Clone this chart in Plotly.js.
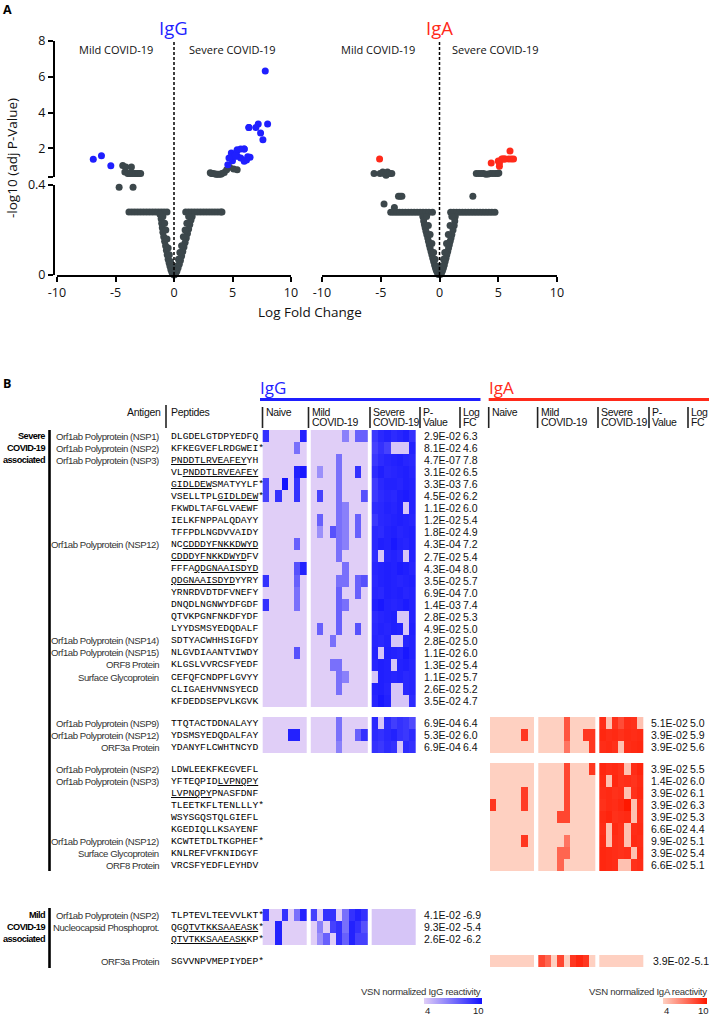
<!DOCTYPE html>
<html><head><meta charset="utf-8">
<script src="https://cdn.plot.ly/plotly-3.0.1.min.js"></script>
<style>html,body{margin:0;padding:0;background:#fff}#chart{width:709px;height:1017px}</style>
</head><body><div id="chart"></div>
<script>
// ---------------- DATA ----------------
const antigens = [
 'Orf1ab Polyprotein (NSP1)','Orf1ab Polyprotein (NSP2)','Orf1ab Polyprotein (NSP3)','','','','','','',
 'Orf1ab Polyprotein (NSP12)','','','','','','','',
 'Orf1ab Polyprotein (NSP14)','Orf1ab Polyprotein (NSP15)','ORF8 Protein','Surface Glycoprotein','','',
 'Orf1ab Polyprotein (NSP9)','Orf1ab Polyprotein (NSP12)','ORF3a Protein',
 'Orf1ab Polyprotein (NSP2)','Orf1ab Polyprotein (NSP3)','','','','','Orf1ab Polyprotein (NSP12)','Surface Glycoprotein','ORF8 Protein',
 'Orf1ab Polyprotein (NSP2)','Nucleocapsid Phosphoprot.','',
 'ORF3a Protein'
];
const peptides = [
 'DLGDELGTDPYEDFQ','KFKEGVEFLRDGWEI*','<u>PNDDTLRVEAFEY</u>YH','VL<u>PNDDTLRVEAFEY</u>','<u>GIDLDEW</u>SMATYYLF*',
 'VSELLTPL<u>GIDLDEW</u>*','FKWDLTAFGLVAEWF','IELKFNPPALQDAYY','TFFPDLNGDVVAIDY','NC<u>CDDDYFNKKDWYD</u>',
 '<u>CDDDYFNKKDWYD</u>FV','FFFA<u>QDGNAAISDYD</u>','<u>QDGNAAISDYD</u>YYRY','YRNRDVDTDFVNEFY','DNQDLNGNWYDFGDF',
 'QTVKPGNFNKDFYDF','LYYDSMSYEDQDALF','SDTYACWHHSIGFDY','NLGVDIAANTVIWDY','KLGSLVVRCSFYEDF',
 'CEFQFCNDPFLGVYY','CLIGAEHVNNSYECD','KFDEDDSEPVLKGVK',
 'TTQTACTDDNALAYY','YDSMSYEDQDALFAY','YDANYFLCWHTNCYD',
 'LDWLEEKFKEGVEFL','YFTEQPID<u>LVPNQPY</u>','<u>LVPNQPY</u>PNASFDNF','TLEETKFLTENLLLY*','WSYSGQSTQLGIEFL',
 'KGEDIQLLKSAYENF','KCWTETDLTKGPHEF*','KNLREFVFKNIDGYF','VRCSFYEDFLEYHDV',
 'TLPTEVLTEEVVLKT*','QG<u>QTVTKKSAAEASK</u>*','<u>QTVTKKSAAEASK</u>KP*',
 'SGVVNPVMEPIYDEP*'
];
const N9 = [null,null,null,null,null,null,null,null,null];
const igGPval = ['2.9E-02','8.1E-02','4.7E-07','3.1E-02','3.3E-03','4.5E-02','1.1E-02','1.2E-02','1.8E-02','4.3E-04',
 '2.7E-02','4.3E-04','3.5E-02','6.9E-04','1.4E-03','2.8E-02','4.9E-02','2.8E-02','1.1E-02','1.3E-02','1.1E-02','2.6E-02','3.5E-02',
 '6.9E-04','5.3E-02','6.9E-04', ...N9, '4.1E-02','9.3E-02','2.6E-02', null];
const igGLogFC = [6.3,4.6,7.8,6.5,7.6,6.2,6.0,5.4,4.9,7.2,5.4,8.0,5.7,7.0,7.4,5.3,5.0,5.0,6.0,5.4,5.7,5.2,4.7,
 6.4,6.0,6.4, ...N9, -6.9,-5.4,-6.2, null];
const N23 = new Array(23).fill(null);
const igAPval = [...N23, '5.1E-02','3.9E-02','3.9E-02','3.9E-02','1.4E-02','3.9E-02','3.9E-02','3.9E-02','6.6E-02','9.9E-02','3.9E-02','6.6E-02',
 null,null,null,'3.9E-02'];
const igALogFC = [...N23, 5.0,5.9,5.6,5.5,6.0,6.1,6.3,5.3,4.4,5.1,5.4,5.1, null,null,null,-5.1];
const scaleTicks = [4, 10];

// Heatmap values (VSN normalized reactivity): 7 Naive | 9 Mild | 7 Severe
const igG_sev1 = [
[9,4,4,4,4,4,9.5, 4,4,4,4,4,6.5,4,7.5,7.5, 8.8,9.3,9.5,9.2,9.4,9.6,9],
[4,4,4,4,4,7,4, 4,4,4,4,4,4,4,4,4, 8.5,9,8.5,4.3,4.3,4.3,9.5],
[4,4,4,4,4,4,4, 4,4,4,4,7,4,4,4,4, 8.8,9.2,9.4,9.5,9.6,9.4,9.3],
[4,4,4,4,4,9.5,9.8, 4,6,4,4,7,4,4,9,4, 9.2,9.6,9.3,9.4,9.5,9.6,9.4],
[8.5,4,4,10,4,9,4, 4,4,4,4,7,4,4,4,4, 8.7,9.3,9.5,9.5,9.4,9.6,9.5],
[8.5,4,9,4,4,9,4, 4,8.5,4,4,7,4,4,4,8, 8.8,9.2,9.4,9.3,9.6,9.7,9.5],
[4,4,4,4,4,4,4, 4,4,4,4,7,6.5,4,4,4, 9.2,9.3,9.5,9.4,9.6,4.3,9.5],
[4,4,4,4,4,4,4, 4,7.5,4,4,7,6.5,4,7.5,4, 8.8,9.3,9.4,9.5,9.6,9.5,9.4],
[4,4,4,4,4,4,4, 4,6,4,8,7,6.5,4,7.5,4, 9.3,9.2,9.5,9.6,9.4,9.5,9.6],
[4,4,4,4,4,7.5,4, 4,4,4,4,7,6.5,4,4,4, 9.3,9.6,9.5,9.8,9.5,9.4,9.6],
[4,4,4,4,4,4,4, 4,4,4,4,7,4,4,4,4, 9.2,4.3,9.4,9.5,9.3,4.3,9.5],
[4,4,4,4,4,8,9.5, 4,4,4,4,4,7,4,4,4, 9.4,9.5,9.6,9.5,9.7,9.6,9.4],
[9,4,4,4,4,7.5,4, 4,4,4,4,7,7,4,7.5,8, 9.3,9.5,9.6,9.5,9.4,9.5,9.6],
[4,4,4,4,4,7,4, 4,4,4,4,7.5,4,4,7.5,4, 9.4,9.3,9.6,9.5,9.6,9.4,9.5],
[9,4,4,4,4,7,4, 4,4,4,4,7.5,7,4,4,4, 9.6,9.8,9.5,9.4,9.5,9.7,9.5],
[4,4,4,4,4,4,4, 4,4,4,4,7.5,4,4,4,4, 9.2,9.4,9.5,9.6,4.3,4.3,9.5],
[4,4,4,4,4,4,4, 4,7.5,4,4,7.5,4,4,8,4, 9.3,9.5,9.4,9.6,9.5,4.3,9.6],
[4,4,4,4,4,4,4, 4,4,4,7,4,4,4,4,4, 9.4,9.3,9.5,4.3,4.3,9.4,9.5],
[4,4,4,4,4,8,4, 4,4,4,4,4,4,4,4,4, 9.5,4.3,9.6,9.5,9.4,9.8,9.5],
[4,4,4,4,4,4,4, 4,4,4,7,7,4,4,4,4, 9.4,9.6,9.5,4.3,9.5,9.6,9.4],
[4,4,4,4,4,4,4, 4,4,4,4,7,6.5,4,4,4, 4.3,9.6,9.5,9.4,9.5,9.3,9.4],
[4,4,4,4,4,4,4, 4,4,4,4,7,4,4,4,4, 9.5,9.6,9.4,4.3,4.3,9.3,9.4],
[4,4,4,4,4,4,4, 4,4,4,4,4,4,4,4,4, 9.4,9.8,9.5,4.3,4.3,4.3,9.2]
];
const igG_sev2 = [
[4,4,4,4,4,4,4, 4,4,4,4,7,4,4,4,4, 9.3,4.3,9.2,8.6,9,8.8,8.2],
[4,4,4,4,9.5,9.5,4, 4,4,4,4,7,4,4,7.5,9, 9.2,9,9.3,9.5,9,8.8,9.2],
[4,4,4,4,4,4,4, 4,4,4,4,6.5,4,4,4,4, 9,8.8,9.2,9,4.3,9.2,9]
];
const igG_mild = [
[9,4,4,9,4,7,9.5, 8.5,4,9,9,4,7,9,9.5,9, 4.3,4.3,4.3,4.3,4.3,4.3,4.3],
[4,4,9.5,4,4,4,4, 4,6.5,4,8.5,9,7,9.5,9,8, 4.3,4.3,4.3,4.3,4.3,4.3,4.3],
[4,4,9.5,4,4,4,4, 4,6,7.5,4,9,7.5,9.5,8.5,8.5, 4.3,4.3,4.3,4.3,4.3,4.3,4.3]
];
const igA_sev2 = [
[4,4,4,4,4,4,4, 4,4,4,4,8,4,4,4,4, 9.3,4.5,9.2,8.3,9.3,9.2,4.5],
[4,4,4,4,4,9,4, 4,4,4,4,8,4,4,9,9, 9.5,9.3,9.4,9.2,9.4,9.3,9.4],
[4,4,4,4,4,4,4, 4,4,4,4,7,4,4,4,9, 9.3,9.4,9.2,4.5,9.3,9.4,9.5]
];
const igA_sev3 = [
[4,4,4,4,4,4,4, 4,4,4,4,8.5,4,4,4,9, 9.5,9.3,9.4,9.2,4.5,9.3,9.6],
[4,4,4,4,4,4,4, 4,4,4,4,8.5,4,4,4,4, 9.4,4.5,9.5,9.2,9.3,9.1,9.4],
[4,4,4,4,4,8.8,4, 4,4,4,4,8.5,4,4,4,4, 9.3,9.4,9.2,9.3,4.5,9.2,9.5],
[9,4,4,4,4,8.8,4, 4,4,4,4,8.5,4,4,4,4, 9.2,9.4,9.3,9.5,10,4.5,9.3],
[4,4,4,4,4,4,4, 4,4,4,8.5,8.5,4,4,4,4, 9.4,9.6,9.2,9.3,9.4,4.5,9.3],
[4,4,4,4,4,4,4, 4,4,4,4,4,4,4,4,4, 9.3,4.5,9.4,9.2,4.5,9.3,9.4],
[4,4,4,4,4,9,4, 4,4,4,4,7,4,4,4,4, 9.4,4.5,9.3,9.2,4.5,9.4,9.3],
[4,4,4,4,4,4,4, 4,4,4,7.5,7.5,4,4,4,4, 9.5,9.4,9.3,9.2,9.3,4.5,9.4],
[4,4,4,4,4,4,4, 4,4,4,7.5,4,4,4,4,4, 9.5,9.4,9.3,4.5,4.5,9.2,9.3]
];
const igA_mild = [
[4,4,4,4,4,4,4, 8.5,7.5,4,8.5,4,9,9.5,9,4, 4,4,4,4,4,4,4]
];

// Volcano plot: non-significant peptides (grey)
const igGGreyX = [-4.38,-4.12,-3.64,-4.2,-3.95,-3.84,-3.7,-3.55,-3.4,-3.27,-3.1,-2.98,-2.85,
 3.1,3.2,3.3,3.45,3.6,3.7,3.85,4.0,4.1,4.3,4.5,4.75,5.1,5.4,
 -4.69,-3.5,
 -3.85,-3.6,-3.35,-3.1,-2.85,-2.6,-2.35,-2.1,-1.85,-1.6,-1.35,-1.1,-0.85,-0.6,
 1.0,1.25,1.5,1.75,2.0,2.25,2.5,2.75,3.0,3.25,3.5,3.75,4.0,4.1,
 -1.2,-1.1,-1.05,-1.0,-0.95,-0.88,-0.8,-0.72,-0.65,-0.58,-0.5,-0.42,-0.35,-0.27,-0.18,-0.08,0,
 -0.95,-0.8,-0.7,-0.6,-0.5,-0.4,-0.3,-0.2,-0.1,
 1.55,1.45,1.35,1.25,1.15,1.05,0.95,0.85,0.75,0.65,0.55,0.45,0.35,0.25,0.15,0.06,
 1.25,1.1,0.95,0.8,0.65,0.5,0.38,0.25,0.12];
const igGGreyY = [1.04,0.96,0.96,0.68,0.6,0.59,0.6,0.59,0.6,0.59,0.6,0.59,0.6,
 0.64,0.6,0.6,0.58,0.56,0.56,0.56,0.55,0.6,0.65,0.8,0.95,0.85,0.8,
 0.39,0.39,
 0.28,0.28,0.28,0.28,0.28,0.28,0.28,0.28,0.28,0.28,0.28,0.28,0.28,0.28,
 0.28,0.28,0.28,0.28,0.28,0.28,0.28,0.28,0.28,0.28,0.28,0.28,0.28,0.28,
 0.27,0.25,0.23,0.21,0.19,0.17,0.15,0.13,0.11,0.09,0.07,0.055,0.04,0.025,0.012,0.004,0,
 0.26,0.23,0.2,0.16,0.12,0.09,0.06,0.035,0.015,
 0.26,0.245,0.225,0.205,0.185,0.165,0.145,0.125,0.105,0.085,0.065,0.048,0.032,0.018,0.008,0.002,
 0.26,0.23,0.2,0.17,0.13,0.1,0.07,0.04,0.02];
const igAGreyX = [-5.57,-5.06,-4.83,-4.7,-4.55,-4.43,-4.25,-4.06,
 3.13,3.35,3.55,3.75,3.95,4.15,4.35,4.55,4.75,4.95,5.05,
 -3.49,-3.35,-3.2,-4.72,-3.84,2.84,
 -4.15,-3.9,-3.65,-3.4,-3.15,-2.9,-2.65,-2.4,-2.15,-1.9,-1.65,-1.4,-1.15,-0.9,-0.6,
 0.95,1.2,1.45,1.7,1.95,2.2,2.45,2.7,2.95,3.2,3.45,3.7,3.95,4.2,4.45,4.72,
 -1.42,-1.35,-1.28,-1.22,-1.15,-1.08,-1.0,-0.94,-0.87,-0.8,-0.72,-0.65,-0.57,-0.5,-0.42,-0.35,-0.27,-0.18,-0.08,
 -1.1,-0.95,-0.8,-0.65,-0.5,-0.38,-0.25,
 1.34,1.3,1.25,1.15,1.05,0.98,0.91,0.84,0.77,0.7,0.62,0.55,0.48,0.41,0.34,0.26,0.18,0.06,
 1.05,0.9,0.75,0.6,0.45,0.35,0.22];
const igAGreyY = [0.59,0.59,0.68,0.6,0.5,0.68,0.6,0.59,
 0.59,0.59,0.59,0.59,0.55,0.57,0.59,0.59,0.59,0.59,0.62,
 0.35,0.35,0.35,0.316,0.3,0.35,
 0.279,0.279,0.279,0.279,0.279,0.279,0.279,0.279,0.279,0.279,0.279,0.279,0.279,0.279,0.279,
 0.279,0.279,0.279,0.279,0.279,0.279,0.279,0.279,0.279,0.279,0.279,0.279,0.279,0.279,0.279,0.279,
 0.26,0.24,0.225,0.21,0.195,0.18,0.165,0.15,0.135,0.12,0.105,0.09,0.075,0.06,0.045,0.032,0.02,0.01,0.002,
 0.26,0.22,0.18,0.14,0.1,0.07,0.04,
 0.26,0.24,0.22,0.2,0.18,0.165,0.15,0.135,0.12,0.105,0.09,0.075,0.06,0.045,0.032,0.02,0.01,0.002,
 0.26,0.22,0.18,0.14,0.1,0.07,0.04];

const xTicks = [-10,-5,0,5,10];
const xTickText = ['-10','-5','0','5','10'];

// ---------------- STYLE / LAYOUT CONSTANTS ----------------
const W = 709, H = 1017;
const FA = '"Open Sans", "Noto Sans", sans-serif';
const FN = '"Liberation Sans", Arial, sans-serif';
const FM = '"Liberation Mono", "DejaVu Sans Mono", monospace';
const BLUE = '#1f1fff', RED = '#ff2a1a', GREY = '#3c474b';
const csG = [[0,'rgb(224,206,247)'],[1,'rgb(18,18,255)']];
const csA = [[0,'rgb(254,208,193)'],[1,'rgb(255,24,0)']];
const py = p => 1 - p / H;
const tight = (s, ls) => '<span style="letter-spacing:' + ls + 'px">' + s + '</span>';

const traces = [];

// ---- volcano plots ----
function volcano(xa, yUp, yLo, gx, gy, pv, fc, col) {
  const ux=[],uy=[],lx=[],ly=[];
  gx.forEach((x,i)=>{ if (gy[i] >= 0.4) {ux.push(x);uy.push(gy[i]);} else {lx.push(x);ly.push(gy[i]);} });
  const base = {type:'scatter', mode:'markers', hoverinfo:'skip', cliponaxis:false, xaxis:xa};
  traces.push(Object.assign({}, base, {x:lx, y:ly, yaxis:yLo, marker:{size:7, color:GREY}}));
  traces.push(Object.assign({}, base, {x:ux, y:uy, yaxis:yUp, marker:{size:7, color:GREY}}));
  const sx=[], sy=[];
  pv.forEach((p,i)=>{ if (p) { sx.push(fc[i]); sy.push(-Math.log10(parseFloat(p))); } });
  traces.push(Object.assign({}, base, {x:sx, y:sy, yaxis:yUp, marker:{size:7, color:col}}));
}
volcano('x','y','y2', igGGreyX, igGGreyY, igGPval, igGLogFC, BLUE);
volcano('x2','y3','y4', igAGreyX, igAGreyY, igAPval, igALogFC, RED);

// ---- heatmaps (panel B), drawn on a pixel-scaled axis pair x3/y5 ----
const ROWH = 12.05;
const groupTop = [430, 717, 763, 909, 955];
const groupStart = [0, 23, 26, 35, 38];
const groupLen = [23, 3, 9, 3, 1];
function rowCenter(i) {
  for (let g = 0; g < 5; g++) if (i >= groupStart[g] && i < groupStart[g] + groupLen[g]) return groupTop[g] + (i - groupStart[g] + 0.5) * ROWH;
}
const CELLW = 6.3, NCELL = [7, 9, 7];
const igGBlockX = [262.7, 310.8, 371.7], igABlockX = [490, 538.3, 599.3];
function addHeat(z, g, blockX, cs, cb) {
  let off = 0;
  for (let b = 0; b < 3; b++) {
    const n = NCELL[b];
    const sub = z.map(r => r.slice(off, off + n));
    const xe = []; for (let j = 0; j <= n; j++) xe.push(blockX[b] + j * CELLW);
    const ye = []; for (let k = 0; k <= z.length; k++) ye.push(groupTop[g] + k * ROWH);
    const t = {type:'heatmap', z:sub, x:xe, y:ye, xaxis:'x3', yaxis:'y5', colorscale:cs, zmin:4, zmax:10, showscale:false, hoverinfo:'skip'};
    if (cb && b === 2) { t.showscale = true; t.colorbar = cb; }
    traces.push(t);
    off += n;
  }
}
const cbBase = {orientation:'h', xanchor:'left', yanchor:'top', lenmode:'pixels', thicknessmode:'pixels', thickness:5.5,
  xpad:0, ypad:0, outlinewidth:0, tickvals:scaleTicks, ticks:'', showticklabels:false};
const cbG = {x0:424.5, len:57.5}, cbA = {x0:663, len:44};
addHeat(igG_sev1, 0, igGBlockX, csG, Object.assign({}, cbBase, {x:cbG.x0/W, y:py(998), len:cbG.len}));
addHeat(igG_sev2, 1, igGBlockX, csG);
addHeat(igG_mild, 3, igGBlockX, csG);
addHeat(igA_sev2, 1, igABlockX, csA);
addHeat(igA_sev3, 2, igABlockX, csA, Object.assign({}, cbBase, {x:cbA.x0/W, y:py(998), len:cbA.len}));
addHeat(igA_mild, 4, igABlockX, csA);

// ---- annotations ----
const ann = [];
function T(x, y, text, o) {
  ann.push(Object.assign({xref:'x3', yref:'y5', x:x, y:y, text:text, showarrow:false, xanchor:'left', yanchor:'middle', borderpad:0,
    font:{family:FN, size:10.5, color:'#111'}}, o || {}));
}
// panel A
T(2, 9, '<b>A</b>', {font:{family:FA, size:12.5, color:'#000'}});
T(173, 27, 'IgG', {xanchor:'center', font:{family:FA, size:18.5, color:BLUE}});
T(439.5, 27, 'IgA', {xanchor:'center', font:{family:FA, size:18.5, color:RED}});
T(116, 49, 'Mild COVID-19', {xanchor:'center', font:{family:FA, size:11, color:'#111'}});
T(232, 49, 'Severe COVID-19', {xanchor:'center', font:{family:FA, size:11, color:'#111'}});
T(378, 49, 'Mild COVID-19', {xanchor:'center', font:{family:FA, size:11, color:'#111'}});
T(495, 49, 'Severe COVID-19', {xanchor:'center', font:{family:FA, size:11, color:'#111'}});
T(12, 158, '-log10 (adj P-Value)', {xanchor:'center', textangle:-90, font:{family:FA, size:13.5, color:'#111'}});
T(310, 312, 'Log Fold Change', {xanchor:'center', font:{family:FA, size:13.5, color:'#111'}});
// panel B header
T(2, 383, '<b>B</b>', {font:{family:FA, size:12.5, color:'#000'}});
T(259, 387, 'IgG', {font:{family:FA, size:17, color:BLUE}});
T(488, 387, 'IgA', {font:{family:FA, size:17, color:RED}});
T(161.5, 412, tight('Antigen', -0.3), {xanchor:'right'});
T(169.5, 412, tight('Peptides', -0.3));
const hdrX = [264.5, 310.5, 372, 422, 462, 490.5, 539.5, 600, 651, 690];
const hdr1 = ['Naive','Mild','Severe','P-','Log','Naive','Mild','Severe','P-','Log'];
const hdr2 = ['','COVID-19','COVID-19','Value','FC','','COVID-19','COVID-19','Value','FC'];
hdrX.forEach((x,i)=>{ T(x, 412, tight(hdr1[i], -0.3)); if (hdr2[i]) T(x, 421.5, tight(hdr2[i], -0.3)); });
// group labels
const grpFont = {family:FN, size:9.2, color:'#000', weight:700};
['Severe','COVID-19','associated'].forEach((s,k)=>T(45.5, rowCenter(k), tight(s, -0.55), {xanchor:'right', font:grpFont}));
['Mild','COVID-19','associated'].forEach((s,k)=>T(45.5, rowCenter(35+k), tight(s, -0.55), {xanchor:'right', font:grpFont}));
// rows
for (let i = 0; i < peptides.length; i++) {
  const y = rowCenter(i);
  if (antigens[i]) T(159.5, y, tight(antigens[i], -0.45), {xanchor:'right', font:{family:FN, size:9.6, color:'#333'}});
  T(169.5, y, peptides[i], {font:{family:FM, size:9.7, color:'#000'}});
  if (igGPval[i]) { T(422.5, y, igGPval[i]); T(462, y, igGLogFC[i].toFixed(1)); }
  if (igAPval[i]) {
    if (i === 38) { T(652, y, igAPval[i]); T(689.5, y, igALogFC[i].toFixed(1)); }
    else { T(650, y, igAPval[i]); T(689.3, y, igALogFC[i].toFixed(1)); }
  }
}
// colorbar titles and end labels
T(482, 991, tight('VSN normalized IgG reactivity', -0.3), {xanchor:'right', font:{family:FN, size:9.6, color:'#333'}});
T(708, 991, tight('VSN normalized IgA reactivity', -0.3), {xanchor:'right', font:{family:FN, size:9.6, color:'#333'}});
[cbG, cbA].forEach(cb => scaleTicks.forEach((v, k) => {
  const x = cb.x0 + cb.len * (v - scaleTicks[0]) / (scaleTicks[1] - scaleTicks[0]) + (k === 0 ? 3 : -4);
  T(x, 1010, String(v), {xanchor:'center', font:{family:FN, size:9.5, color:'#222'}});
}));

// ---- shapes ----
const shapes = [];
function L(x0,y0,x1,y1,col,w,dash,xref) {
  shapes.push({type:'line', xref:xref||'x3', yref:'y5', x0:x0, y0:y0, x1:x1, y1:y1, line:{color:col, width:w, dash:dash||'solid'}});
}
L(0, 42, 0, 275, '#000', 1.5, '3px,2px', 'x');
L(0, 42, 0, 275, '#000', 1.5, '3px,2px', 'x2');
L(260, 399.5, 480.5, 399.5, BLUE, 3);
L(488.7, 399.5, 709, 399.5, RED, 3);
L(166, 405, 166, 428, '#222', 1.6);
[262.5, 308.5, 370, 420, 460, 488.7, 537.6, 598, 649, 688].forEach(x => L(x, 407, x, 428, '#222', 1.6));
L(49.5, 430, 49.5, 871, '#000', 2.6);
L(49.5, 908, 49.5, 968, '#000', 2.6);

// ---- axes ----
const axBase = {showline:true, linecolor:'#000', linewidth:2, ticks:'outside', ticklen:5, tickwidth:2, tickcolor:'#000',
  showgrid:false, zeroline:false, fixedrange:true, tickfont:{family:FA, size:12.5, color:'#111'}};
const layout = {
  width:W, height:H, margin:{l:0, r:0, t:0, b:0}, paper_bgcolor:'#fff', plot_bgcolor:'rgba(0,0,0,0)', showlegend:false,
  xaxis: Object.assign({}, axBase, {domain:[57/W, 291/W], range:[-10,10], anchor:'y2', tickmode:'array', tickvals:xTicks, ticktext:xTickText}),
  yaxis: Object.assign({}, axBase, {domain:[py(177), py(41)], range:[0.4,8], anchor:'free', position:54/W, tickmode:'array', tickvals:[0.4,2,4,6,8], ticktext:['','2','4','6','8']}),
  yaxis2: Object.assign({}, axBase, {domain:[py(275), py(185)], range:[0,0.4], anchor:'free', position:54/W, tickmode:'array', tickvals:[0,0.4], ticktext:['0','0.4']}),
  xaxis2: Object.assign({}, axBase, {domain:[322/W, 557/W], range:[-10,10], anchor:'y4', tickmode:'array', tickvals:xTicks, ticktext:xTickText}),
  yaxis3: {domain:[py(177), py(41)], range:[0.4,8], anchor:'x2', visible:false, fixedrange:true},
  yaxis4: {domain:[py(275), py(185)], range:[0,0.4], anchor:'x2', visible:false, fixedrange:true},
  xaxis3: {domain:[0,1], range:[0,W], anchor:'y5', visible:false, fixedrange:true},
  yaxis5: {domain:[0,1], range:[H,0], anchor:'x3', visible:false, fixedrange:true},
  annotations: ann, shapes: shapes
};
Plotly.newPlot('chart', traces, layout, {displayModeBar:false, staticPlot:true});
</script></body></html>
